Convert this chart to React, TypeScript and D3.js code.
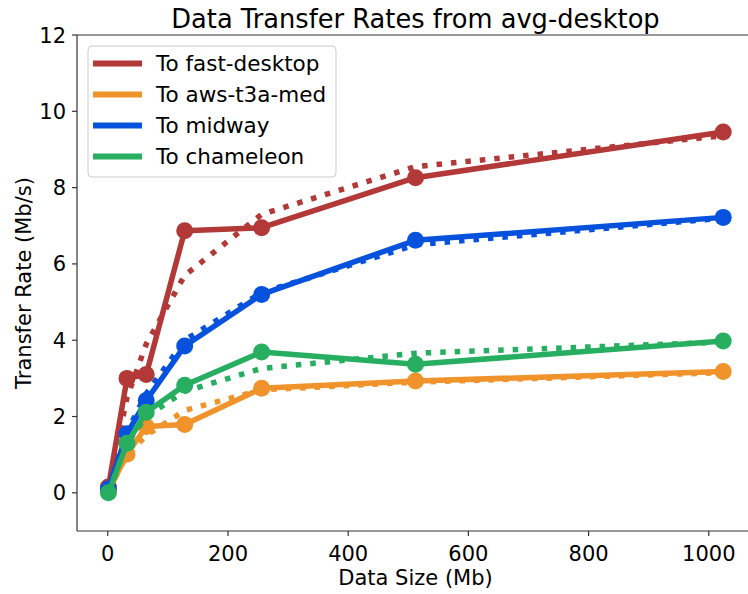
import React from "react"
import * as d3 from "d3"

// data sizes in Mb
const sizes = [1, 32, 64, 128, 256, 512, 1024]

const names = ["To fast-desktop", "To aws-t3a-med", "To midway", "To chameleon"]
const colors = ["#b33939", "#f0932b", "#0652dd", "#27ae60"]

// measured rates (solid lines with markers)
const fastDesktop = [0.15, 3.0, 3.1, 6.87, 6.95, 8.26, 9.46]
const awsT3aMed = [0.05, 1.01, 1.74, 1.79, 2.74, 2.93, 3.18]
const midway = [0.1, 1.55, 2.42, 3.85, 5.2, 6.62, 7.22]
const chameleon = [0.0, 1.3, 2.11, 2.82, 3.69, 3.37, 3.98]

// second run (dotted lines)
const fastDesktop2 = [0.15, 2.5, 3.9, 5.7, 7.3, 8.55, 9.36]
const awsT3aMed2 = [0.05, 1.0, 1.5, 2.16, 2.7, 2.9, 3.15]
const midway2 = [0.1, 1.6, 2.6, 4.0, 5.25, 6.5, 7.2]
const chameleon2 = [0.0, 1.3, 2.0, 2.66, 3.26, 3.66, 3.95]

const solid = [fastDesktop, awsT3aMed, midway, chameleon]
const dotted = [fastDesktop2, awsT3aMed2, midway2, chameleon2]

const yTicks = [0, 2, 4, 6, 8, 10, 12]
const xTicks = [0, 200, 400, 600, 800, 1000]

const W = 748
const H = 594
const left = 77
const right = 754
const top = 35
const bottom = 531
const font = "DejaVu Sans, sans-serif"

export default function App() {
  const x = d3.scaleLinear().domain([-51.2, 1075.2]).range([left, right])
  const y = d3.scaleLinear().domain([-1, 12]).range([bottom, top])

  const line = d3
    .line<number>()
    .x((_, i) => x(sizes[i]))
    .y((d) => y(d))

  return (
    <svg
      width={W}
      height={H}
      style={{ position: "absolute", left: 0, top: 0, background: "#fff" }}
      fontFamily={font}
    >
      <defs>
        <clipPath id="plot">
          <rect x={left} y={top} width={right - left} height={bottom - top} />
        </clipPath>
      </defs>

      <g clipPath="url(#plot)">
        {solid.map((vals, k) => (
          <g key={k}>
            <path
              d={line(vals) || ""}
              fill="none"
              stroke={colors[k]}
              strokeWidth={5.5}
              strokeLinejoin="round"
            />
            {vals.map((v, i) => (
              <circle key={i} cx={x(sizes[i])} cy={y(v)} r={8.5} fill={colors[k]} />
            ))}
            <path
              d={line(dotted[k]) || ""}
              fill="none"
              stroke={colors[k]}
              strokeWidth={5.5}
              strokeDasharray="5.5 9"
            />
          </g>
        ))}
      </g>

      {/* spines */}
      <line x1={left} x2={left} y1={top} y2={bottom} stroke="#333" strokeWidth={1.2} />
      <line x1={left} x2={W} y1={bottom} y2={bottom} stroke="#333" strokeWidth={1.2} />
      <line x1={left} x2={W} y1={top} y2={top} stroke="#333" strokeWidth={1.2} />

      {/* y axis */}
      {yTicks.map((t) => (
        <g key={t}>
          <line x1={left - 5} x2={left} y1={y(t)} y2={y(t)} stroke="#333" strokeWidth={1.2} />
          <text x={left - 11} y={y(t)} dy="0.36em" textAnchor="end" fontSize={21}>
            {t}
          </text>
        </g>
      ))}

      {/* x axis */}
      {xTicks.map((t) => (
        <g key={t}>
          <line x1={x(t)} x2={x(t)} y1={bottom} y2={bottom + 5} stroke="#333" strokeWidth={1.2} />
          <text x={x(t)} y={bottom + 30} textAnchor="middle" fontSize={21}>
            {t}
          </text>
        </g>
      ))}

      <text x={(left + right) / 2} y={585} textAnchor="middle" fontSize={21}>
        Data Size (Mb)
      </text>
      <text
        transform={`translate(31,${(top + bottom) / 2}) rotate(-90)`}
        textAnchor="middle"
        fontSize={21}
      >
        Transfer Rate (Mb/s)
      </text>
      <text x={(left + right) / 2} y={28} textAnchor="middle" fontSize={25.7}>
        Data Transfer Rates from avg-desktop
      </text>

      {/* legend */}
      <rect
        x={88}
        y={46}
        width={248}
        height={131}
        rx={4}
        fill="#fff"
        fillOpacity={0.8}
        stroke="#ccc"
        strokeWidth={1}
      />
      {names.map((n, k) => (
        <g key={n} transform={`translate(0,${63.5 + k * 31})`}>
          <line x1={93} x2={142} y1={0} y2={0} stroke={colors[k]} strokeWidth={6} />
          <text x={156} y={0} dy="0.36em" fontSize={21.5}>
            {n}
          </text>
        </g>
      ))}
    </svg>
  )
}
